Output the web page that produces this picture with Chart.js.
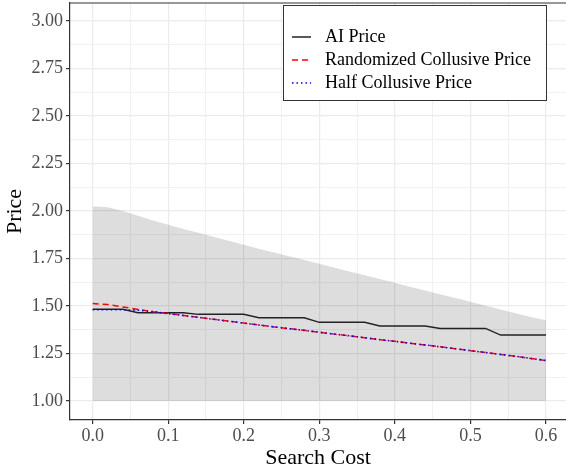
<!DOCTYPE html>
<html>
<head>
<meta charset="utf-8">
<script src="https://cdn.jsdelivr.net/npm/chart.js@4"></script>
<style>
  body { margin: 0; background: #fff; }
  canvas { display: block; }
</style>
</head>
<body>
<canvas id="priceChart" width="566" height="471"></canvas>
<script>
// search cost grid (x)
const searchCost = [0, 0.02, 0.04, 0.06, 0.08, 0.10, 0.12, 0.14, 0.16, 0.18, 0.20,
  0.22, 0.24, 0.26, 0.28, 0.30, 0.32, 0.34, 0.36, 0.38, 0.40,
  0.42, 0.44, 0.46, 0.48, 0.50, 0.52, 0.54, 0.56, 0.58, 0.60];

// grey band (upper / lower edge)
const bandUpper = [2.025, 2.02, 2.0, 1.975, 1.95, 1.928, 1.906, 1.885, 1.864, 1.843, 1.822,
  1.802, 1.782, 1.762, 1.742, 1.722, 1.702, 1.682, 1.662, 1.642, 1.622,
  1.602, 1.582, 1.562, 1.542, 1.522, 1.502, 1.482, 1.462, 1.442, 1.425];
const bandLower = [1, 1, 1, 1, 1, 1, 1, 1, 1, 1, 1,
  1, 1, 1, 1, 1, 1, 1, 1, 1, 1,
  1, 1, 1, 1, 1, 1, 1, 1, 1, 1];

const aiPrice = [1.483, 1.483, 1.483, 1.465, 1.465, 1.465, 1.465, 1.456, 1.456, 1.456, 1.456,
  1.438, 1.438, 1.438, 1.438, 1.414, 1.414, 1.414, 1.414, 1.395, 1.395,
  1.395, 1.395, 1.382, 1.382, 1.382, 1.382, 1.347, 1.347, 1.347, 1.347];
const randomizedPrice = [1.513, 1.508, 1.495, 1.482, 1.470, 1.460, 1.450, 1.440, 1.430, 1.420, 1.410,
  1.400, 1.390, 1.381, 1.372, 1.362, 1.352, 1.343, 1.333, 1.323, 1.314,
  1.304, 1.295, 1.285, 1.275, 1.265, 1.255, 1.245, 1.235, 1.224, 1.213];
const halfPrice = [1.480, 1.480, 1.480, 1.478, 1.470, 1.460, 1.450, 1.440, 1.430, 1.420, 1.410,
  1.400, 1.390, 1.381, 1.372, 1.362, 1.352, 1.343, 1.333, 1.323, 1.314,
  1.304, 1.295, 1.285, 1.275, 1.265, 1.255, 1.245, 1.235, 1.224, 1.213];

const xMajor = [0, 0.1, 0.2, 0.3, 0.4, 0.5, 0.6];
const xMinor = [0.05, 0.15, 0.25, 0.35, 0.45, 0.55];
const yMajor = [1, 1.25, 1.5, 1.75, 2, 2.25, 2.5, 2.75, 3];
const yMinor = [1.125, 1.375, 1.625, 1.875, 2.125, 2.375, 2.625, 2.875];

const toPoints = (ys) => ys.map((y, i) => ({ x: searchCost[i], y: y }));

Chart.defaults.font.family = "'Liberation Serif', 'DejaVu Serif', serif";

function gridFor(major) {
  return {
    color: (c) => major.includes(c.tick && c.tick.value) ? '#ebebeb' : '#f1f1f1',
    lineWidth: (c) => major.includes(c.tick && c.tick.value) ? 1.2 : 1,
    tickColor: (c) => major.includes(c.tick && c.tick.value) ? '#333333' : 'rgba(0,0,0,0)',
    tickLength: 4,
    drawTicks: true
  };
}

// no extra room for half labels, the panel edges are fixed
function noPad(scale) {
  scale.paddingTop = 0;
  scale.paddingBottom = 0;
  scale.paddingLeft = 0;
  scale.paddingRight = 0;
}

// panel top line + legend box
const decorPlugin = {
  id: 'decor',
  afterDraw(chart) {
    const ctx = chart.ctx;
    const area = chart.chartArea;
    ctx.save();
    ctx.strokeStyle = '#333333';
    ctx.lineWidth = 1.2;
    ctx.beginPath();
    ctx.moveTo(area.left, area.top);
    ctx.lineTo(area.right, area.top);
    ctx.stroke();

    const box = { x: 283, y: 5, w: 263, h: 95 };
    ctx.fillStyle = '#ffffff';
    ctx.fillRect(box.x, box.y, box.w, box.h);
    ctx.strokeStyle = '#333333';
    ctx.lineWidth = 1;
    ctx.strokeRect(box.x + 0.5, box.y + 0.5, box.w, box.h);

    const rows = [37, 60, 83];
    const items = chart.data.datasets.filter(d => d.inLegend);
    ctx.font = "18px 'Liberation Serif'";
    ctx.textBaseline = 'middle';
    items.forEach((d, i) => {
      const y = rows[i];
      ctx.strokeStyle = d.borderColor;
      ctx.lineWidth = d.borderWidth;
      ctx.setLineDash(d.borderDash || []);
      ctx.beginPath();
      ctx.moveTo(292, y);
      ctx.lineTo(311, y);
      ctx.stroke();
      ctx.setLineDash([]);
      ctx.fillStyle = '#000000';
      ctx.fillText(d.label, 325, y);
    });
    ctx.restore();
  }
};

new Chart(document.getElementById('priceChart').getContext('2d'), {
  type: 'line',
  data: {
    datasets: [
      {
        label: 'Band',
        data: toPoints(bandUpper),
        borderWidth: 0,
        pointRadius: 0,
        backgroundColor: 'rgba(0,0,0,0.135)',
        fill: '+1',
        order: 10
      },
      {
        label: 'Band lower',
        data: toPoints(bandLower),
        borderWidth: 0,
        pointRadius: 0,
        fill: false,
        order: 11
      },
      {
        label: 'AI Price',
        data: toPoints(aiPrice),
        borderColor: '#222222',
        borderWidth: 1.5,
        pointRadius: 0,
        fill: false,
        inLegend: true,
        order: 3
      },
      {
        label: 'Randomized Collusive Price',
        data: toPoints(randomizedPrice),
        borderColor: '#ff0000',
        borderWidth: 1.5,
        borderDash: [6, 4],
        pointRadius: 0,
        fill: false,
        inLegend: true,
        order: 2
      },
      {
        label: 'Half Collusive Price',
        data: toPoints(halfPrice),
        borderColor: '#0000ff',
        borderWidth: 1.6,
        borderDash: [1.5, 3],
        pointRadius: 0,
        fill: false,
        inLegend: true,
        order: 1
      }
    ]
  },
  options: {
    responsive: false,
    devicePixelRatio: 1,
    animation: false,
    layout: { padding: { top: 3, left: 0, right: 0, bottom: 0 } },
    plugins: {
      legend: { display: false },
      tooltip: { enabled: false }
    },
    scales: {
      x: {
        type: 'linear',
        min: -0.03,
        max: 0.6265,
        afterBuildTicks: (scale) => {
          scale.ticks = xMajor.concat(xMinor).sort((a, b) => a - b).map(v => ({ value: v }));
        },
        afterFit: (scale) => { scale.height = 51; noPad(scale); },
        grid: gridFor(xMajor),
        border: { display: true, color: '#333333', width: 1.2 },
        ticks: {
          autoSkip: false,
          maxRotation: 0,
          padding: 1,
          color: '#4d4d4d',
          font: { size: 18 },
          callback: (v) => xMajor.includes(v) ? v.toFixed(1) : ''
        },
        title: {
          display: true,
          text: 'Search Cost',
          color: '#000000',
          font: { size: 22 },
          padding: { top: 0, bottom: 0 }
        }
      },
      y: {
        min: 0.9,
        max: 3.095,
        afterBuildTicks: (scale) => {
          scale.ticks = yMajor.concat(yMinor).sort((a, b) => a - b).map(v => ({ value: v }));
        },
        afterFit: (scale) => { scale.width = 70; noPad(scale); },
        grid: gridFor(yMajor),
        border: { display: true, color: '#333333', width: 1.2 },
        ticks: {
          autoSkip: false,
          padding: 3,
          color: '#4d4d4d',
          font: { size: 18 },
          callback: (v) => yMajor.includes(v) ? v.toFixed(2) : ''
        },
        title: {
          display: true,
          text: 'Price',
          color: '#000000',
          font: { size: 22 },
          padding: { top: 2, bottom: 0 }
        }
      }
    }
  },
  plugins: [decorPlugin]
});
</script>
</body>
</html>
